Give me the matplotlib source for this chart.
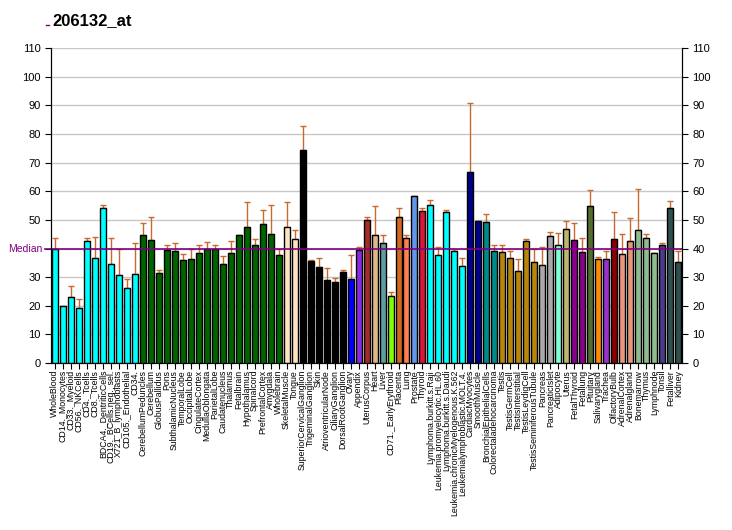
import numpy as np
import matplotlib
matplotlib.use("Agg")
import matplotlib.pyplot as plt
from matplotlib.lines import Line2D

plt.rcParams['font.family'] = ['Liberation Sans', 'DejaVu Sans']

labels = ["WholeBlood", "CD14._Monocytes", "CD33._Myeloid", "CD56._NKCells", "CD4._Tcells",
          "CD8._Tcells", "BDCA4._DentriticCells", "CD19._BCells.neg._sel.", "X721_B_lymphoblasts",
          "CD105._Endothelial", "CD34.", "CerebellumPeduncles", "Cerebellum", "GlobusPallidus",
          "Pons", "SubthalamicNucleus", "TemporalLobe", "OccipitalLobe", "CingulateCortex",
          "MedullaOblongata", "ParietalLobe", "Caudatenucleus", "Thalamus", "Fetalbrain",
          "Hypothalamus", "Spinalcord", "PrefrontalCortex", "Amygdala", "Wholebrain",
          "SkeletalMuscle", "Tongue", "SuperiorCervicalGanglion", "TrigeminalGanglion", "Skin",
          "AtrioventricularNode", "CiliaryGanglion", "DorsalRootGanglion", "Ovary", "Appendix",
          "UterusCorpus", "Heart", "Liver", "CD71._EarlyErythroid", "Placenta", "Lung",
          "Prostate", "Thyroid", "Lymphoma.burkitt.s.Raji", "Leukemia.promyelocytic.HL.60",
          "Lymphoma.burkitt.s.Daudi", "Leukemia.chronicMyelogenous.K.562",
          "Leukemialymphoblastic.MOLT.4.", "CardiacMyocytes", "SmoothMuscle",
          "BronchialEpithelialCells", "Colorectaladenocarcinoma", "Testis", "TestisGermCell",
          "TestisInterstitial", "TestisLeydigCell", "TestisSeminiferousTubule", "Pancreas",
          "PancreaticIslet", "Adipocyte", "Uterus", "FetalThyroid", "Fetallung", "Pituitary",
          "Salivarygland", "Trachea", "OlfactoryBulb", "AdrenalCortex", "Adrenalgland",
          "Bonemarrow", "Thymus", "Lymphnode", "Tonsil", "Fetalliver", "Kidney"]

values = [39.8, 20.0, 23.2, 19.3, 42.5, 36.8, 54.0, 34.7, 30.9, 26.3, 31.2,
          44.6, 42.8, 31.6, 39.5, 39.3, 36.1, 36.5, 38.6, 40.0, 40.0, 34.7, 38.6, 44.6,
          47.4, 41.1, 48.4, 44.9, 37.9,
          47.4, 43.2, 74.4, 35.8, 33.7, 29.1, 28.4, 31.9, 29.5, 39.6, 49.8, 44.6, 41.8,
          23.5, 50.9, 43.5, 58.2, 53.0, 55.1, 37.9, 52.6, 39.3, 34.0, 66.7, 49.5, 49.1,
          39.3, 38.9, 36.8, 32.3, 42.5, 35.4, 34.4, 44.2, 41.4, 46.7, 42.8, 38.9, 54.7,
          36.5, 36.5, 43.2, 38.2, 42.5, 46.3, 43.5, 38.6, 41.1, 54.0, 35.4]

err_top = [43.5, 20.0, 26.9, 22.5, 43.5, 43.9, 55.1, 43.5, 39.9, 29.5, 41.8,
           49.0, 50.9, 32.6, 41.1, 42.0, 38.2, 39.9, 41.3, 42.3, 41.1, 37.5, 42.7, 44.6,
           56.1, 43.2, 53.3, 55.1, 39.9,
           56.1, 46.3, 82.8, 36.1, 36.8, 33.3, 29.8, 32.6, 37.9, 40.4, 50.9, 54.7, 44.6,
           24.9, 54.0, 44.6, 58.2, 54.0, 56.8, 40.4, 53.3, 39.9, 36.8, 90.9, 49.5, 51.9,
           41.1, 41.4, 39.3, 36.5, 43.2, 39.9, 40.4, 45.6, 45.3, 49.5, 48.8, 43.5, 60.4,
           37.2, 39.3, 52.6, 44.9, 50.5, 60.7, 44.9, 38.6, 41.8, 56.5, 39.3]

colors = (["#00FFFF"] * 11 + ["#006400"] * 18 + ["#FFE4C4"] * 2 + ["#000000"] * 6 +
          ["#0000FF", "#8A2BE2", "#A52A2A", "#DEB887", "#5F9EA0", "#7FFF00", "#D2691E",
           "#FF7F50", "#6495ED", "#DC143C"] + ["#00FFFF"] * 5 + ["#00008B"] * 2 +
          ["#008B8B"] * 2 + ["#B8860B"] * 5 + ["#A9A9A9"] * 2 +
          ["#7FFFD4", "#BDB76B", "#8B008B", "#8B008B", "#556B2F", "#FF8C00", "#9932CC",
           "#8B0000", "#E9967A", "#E9967A", "#8FBC8F", "#8FBC8F", "#8FBC8F", "#483D8B",
           "#2F4F4F", "#2F4F4F"])

median = 39.7
title = "206132_at"
yticks = list(range(0, 111, 10))

fig = plt.figure(figsize=(7.32, 5.3), dpi=100)
ax = fig.add_axes([0.0697, 0.315, 0.862, 0.5943])

x = np.arange(len(labels))
v = np.array(values)
e = np.array(err_top) - v
ax.bar(x, v, width=0.75, color=colors, edgecolor="black", linewidth=1, zorder=3)
ax.errorbar(x, v, yerr=[np.zeros_like(e), e], fmt="none", ecolor="#C8692E",
            elinewidth=1, capsize=2.5, capthick=1, zorder=2)

# median line, running a little past the left axis like the original
ax.plot([-0.01, 1], [median, median], transform=ax.get_yaxis_transform(),
        color="#800080", linewidth=1.2, zorder=4, clip_on=False)
ax.text(-0.013, median, "Median", transform=ax.get_yaxis_transform(), ha="right",
        va="center", color="#800080", fontsize=7.5)

ax.set_xlim(-0.45, len(labels) - 0.55)
ax.set_ylim(0, 110)
ax.set_yticks(yticks)
# left "40" is hidden behind the Median label
ax.set_yticklabels(["" if t == 40 else str(t) for t in yticks])
ax.yaxis.grid(True, color="#C8C8C8", linewidth=1, zorder=0)
ax.set_axisbelow(True)
ax.tick_params(axis="y", labelsize=8, length=4, right=True)

ax2 = ax.twinx()
ax2.set_ylim(0, 110)
ax2.set_yticks(yticks)
ax2.tick_params(axis="y", labelsize=8, length=4)
ax2.spines["top"].set_visible(False)

ax.set_xticks(x)
ax.set_xticklabels(labels, rotation=90, fontsize=6.3)
ax.tick_params(axis="x", length=4, pad=1)
ax.spines["top"].set_visible(False)

# small purple dash left of the title
fig.add_artist(Line2D([0.063, 0.067], [0.953, 0.953], color="#800080", linewidth=1))
fig.text(0.071, 0.962, title, fontsize=12, fontweight="bold", ha="left", va="center")
fig.savefig("out.png", dpi=100)
